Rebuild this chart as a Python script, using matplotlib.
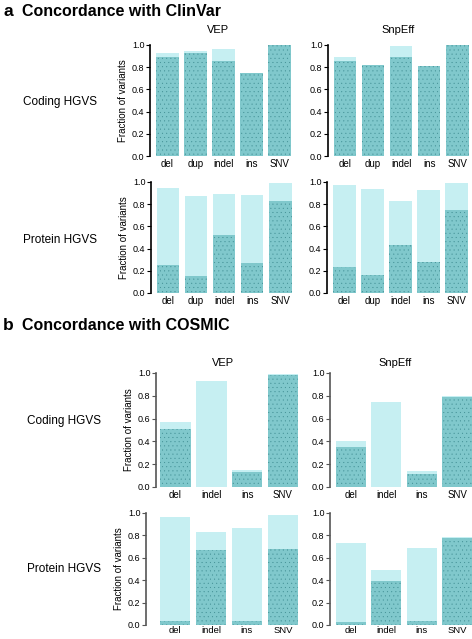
import matplotlib.pyplot as plt

plt.rcParams['font.family'] = ['Liberation Sans', 'DejaVu Sans']
plt.rcParams['hatch.linewidth'] = 0.2
plt.rcParams['hatch.color'] = '#3f8d92'

W, H = 472, 639

LIGHT = '#c6eff2'
DARK = '#80c8cc'

# panel a: concordance with ClinVar
cats_a = ['del', 'dup', 'indel', 'ins', 'SNV']
vep_coding_total = [0.93, 0.95, 0.96, 0.75, 1.00]
vep_coding_match = [0.89, 0.93, 0.86, 0.75, 1.00]
snp_coding_total = [0.89, 0.82, 0.99, 0.81, 1.00]
snp_coding_match = [0.86, 0.82, 0.89, 0.81, 1.00]
vep_protein_total = [0.95, 0.87, 0.89, 0.88, 0.99]
vep_protein_match = [0.25, 0.15, 0.52, 0.27, 0.83]
snp_protein_total = [0.97, 0.94, 0.83, 0.93, 0.99]
snp_protein_match = [0.23, 0.16, 0.43, 0.28, 0.75]

# panel b: concordance with COSMIC
cats_b = ['del', 'indel', 'ins', 'SNV']
b_vep_coding_total = [0.57, 0.93, 0.15, 0.99]
b_vep_coding_match = [0.51, 0.00, 0.13, 0.98]
b_snp_coding_total = [0.40, 0.75, 0.14, 0.80]
b_snp_coding_match = [0.35, 0.00, 0.11, 0.79]
b_vep_protein_total = [0.96, 0.83, 0.87, 0.98]
b_vep_protein_match = [0.04, 0.67, 0.04, 0.68]
b_snp_protein_total = [0.73, 0.49, 0.69, 0.79]
b_snp_protein_match = [0.03, 0.39, 0.04, 0.78]

fig = plt.figure(figsize=(W / 100, H / 100), dpi=100)


def panel(x0, x1, ytop, ybot, cats, total, match, left_gap, width, spine_col='black', ylabel=True):
    ax = fig.add_axes([x0 / W, 1 - ybot / H, (x1 - x0) / W, (ybot - ytop) / H])
    x = list(range(len(cats)))
    ax.bar(x, total, width=width, color=LIGHT, linewidth=0)
    ax.bar(x, match, width=width, color=DARK, linewidth=0, hatch='....')
    ax.set_ylim(0, 1.0)
    ax.set_xlim(-width / 2 - left_gap, len(cats) - 1 + width / 2 + 0.05)
    ax.set_yticks([0, 0.2, 0.4, 0.6, 0.8, 1.0])
    ax.set_yticklabels(['0.0', '0.2', '0.4', '0.6', '0.8', '1.0'])
    ax.set_xticks(x)
    ax.set_xticklabels(cats)
    for s in ['top', 'right', 'bottom']:
        ax.spines[s].set_visible(False)
    ax.spines['left'].set_color(spine_col)
    ax.spines['left'].set_linewidth(1.2)
    ax.tick_params(axis='y', length=3, width=0.8, labelsize=6.5, pad=1, color=spine_col)
    ax.tick_params(axis='x', length=0, labelsize=7, pad=2)
    if ylabel:
        ax.set_ylabel('Fraction of variants', fontsize=7, labelpad=3)
    return ax


# row a, coding
panel(150, 292, 45, 156, cats_a, vep_coding_total, vep_coding_match, 0.22, 0.8)
panel(328, 470, 45, 156, cats_a, snp_coding_total, snp_coding_match, 0.2, 0.8, ylabel=False)
# row a, protein
panel(151, 293, 182, 293, cats_a, vep_protein_total, vep_protein_match, 0.2, 0.8)
panel(327, 469, 182, 293, cats_a, snp_protein_total, snp_protein_match, 0.22, 0.8, ylabel=False)
# row b, coding
panel(156, 300, 373, 487, cats_b, b_vep_coding_total, b_vep_coding_match, 0.12, 0.85, '#555555')
panel(330, 474, 373, 487, cats_b, b_snp_coding_total, b_snp_coding_match, 0.17, 0.85, '#555555', ylabel=False)
# row b, protein
ax7 = panel(146, 300, 513, 625, cats_b, b_vep_protein_total, b_vep_protein_match, 0.38, 0.85, '#555555')
ax8 = panel(330, 474, 513, 625, cats_b, b_snp_protein_total, b_snp_protein_match, 0.17, 0.85, '#555555', ylabel=False)
for ax in (ax7, ax8):
    ax.tick_params(axis='x', labelsize=6.8, pad=0.5)

# headings
fig.text(3 / W, 1 - 11 / H, 'a', fontsize=12.5, fontweight='bold', va='center')
fig.text(22 / W, 1 - 11 / H, 'Concordance with ClinVar', fontsize=11.5, fontweight='bold', va='center')
fig.text(3 / W, 1 - 326 / H, 'b', fontsize=12.5, fontweight='bold', va='center')
fig.text(22 / W, 1 - 326 / H, 'Concordance with COSMIC', fontsize=11.5, fontweight='bold', va='center')

fig.text(218 / W, 1 - 30 / H, 'VEP', fontsize=8, ha='center', va='center')
fig.text(398 / W, 1 - 30 / H, 'SnpEff', fontsize=8, ha='center', va='center')
fig.text(223 / W, 1 - 363 / H, 'VEP', fontsize=8, ha='center', va='center')
fig.text(395 / W, 1 - 363 / H, 'SnpEff', fontsize=8, ha='center', va='center')

fig.text(60 / W, 1 - 102 / H, 'Coding HGVS', fontsize=8.5, ha='center', va='center')
fig.text(60 / W, 1 - 240 / H, 'Protein HGVS', fontsize=8.5, ha='center', va='center')
fig.text(64 / W, 1 - 421 / H, 'Coding HGVS', fontsize=8.5, ha='center', va='center')
fig.text(64 / W, 1 - 569 / H, 'Protein HGVS', fontsize=8.5, ha='center', va='center')

fig.savefig('out.png', dpi=100)
